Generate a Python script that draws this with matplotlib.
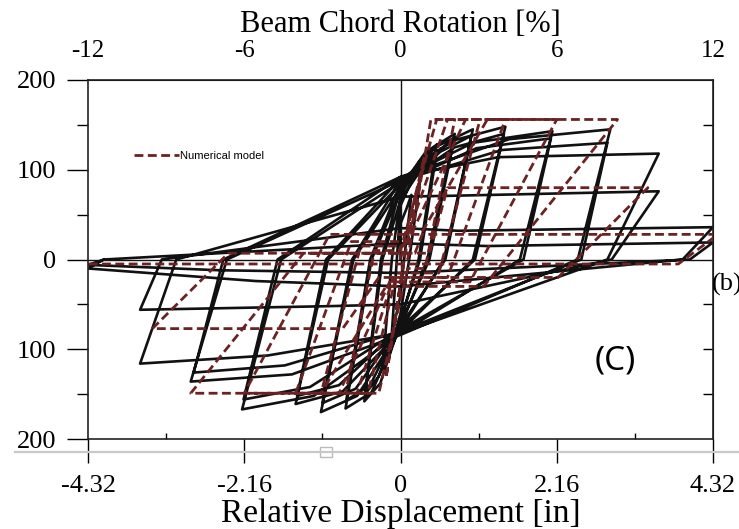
import numpy as np
import matplotlib.pyplot as plt
from matplotlib.lines import Line2D
from matplotlib.patches import Rectangle

# ---- experimental cycles (black) : displacement [in], force ----
exp_pos_pinch_y = [40, 60, 70, 66, 80, 76, 85, 80, 88, 84, 90, 86, 92, 88, 92, 70, 35, 18]
exp_pos_knee_x = [0.08, 0.15, 0.25, 0.28, 0.35, 0.38, 0.50, 0.55, 0.70, 0.75, 1.00, 1.05,
                  1.50, 1.40, 1.35, 0.70, 0.80, 1.20]
exp_pos_knee_y = [56, 87, 108, 100, 120, 114, 126, 120, 132, 125, 130, 124, 134, 122, 114, 71, 32, 15]
exp_pos_peak_x = [0.15, 0.30, 0.50, 0.50, 0.75, 0.74, 1.00, 0.98, 1.45, 1.43, 2.10, 2.08,
                  2.90, 2.86, 3.57, 3.57, 4.32, 4.32]
exp_pos_peak_y = [72, 104, 128, 120, 140, 133, 145, 138, 148, 140, 143, 135, 145, 130, 118, 76, 36, 19]
exp_pos_zero_x = [0.05, 0.12, 0.25, 0.27, 0.37, 0.40, 0.60, 0.62, 1.00, 1.03, 1.65, 1.70,
                  2.45, 2.50, 2.86, 2.92, 3.90, 4.00]
exp_neg_pinch_y = [-40, -60, -70, -66, -75, -72, -78, -74, -80, -76, -82, -78, -84, -80, -82, -50, -30, -15]
exp_neg_knee_x = [-0.06, -0.14, -0.28, -0.30, -0.40, -0.42, -0.60, -0.62, -0.80, -0.85, -1.20, -1.25,
                  -1.50, -1.60, -1.84, -1.00, -2.00, -2.50]
exp_neg_knee_y = [-62, -102, -138, -130, -148, -140, -152, -144, -147, -140, -152, -142,
                  -128, -118, -107, -52, -24, -12]
exp_neg_peak_x = [-0.12, -0.25, -0.50, -0.49, -0.76, -0.75, -1.10, -1.08, -1.45, -1.43, -2.19, -2.17,
                  -2.90, -2.86, -3.60, -3.60, -4.32, -4.32]
exp_neg_peak_y = [-82, -122, -158, -150, -166, -157, -170, -160, -161, -152, -167, -156,
                  -136, -126, -116, -56, -10, -6]
exp_neg_zero_x = [-0.05, -0.12, -0.25, -0.27, -0.40, -0.42, -0.65, -0.67, -1.00, -1.03, -1.65, -1.70,
                  -2.40, -2.45, -3.10, -3.30, -4.10, -4.10]

# ---- numerical model cycles (dashed) ----
num_pos_pinch_y = [0, 0, 10, 15, 20, 28, 7, 7]
num_pos_pinch_end_x = [0.00, 0.10, 0.00, 0.05, 0.10, 0.28, 0.40, 0.20]
num_pos_knee_x = [0.33, 0.42, 0.50, 0.65, 0.90, 1.20, 0.65, 0.30]
num_pos_x = [0.33, 0.75, 1.10, 1.45, 2.16, 3.00, 3.42, 4.39]
num_pos_y = [115, 156, 156, 156, 156, 156, 80, 28]
num_pos_unload_x = [0.05, 0.34, 0.53, 0.65, 0.96, 1.15, 2.18, 3.84]
num_neg_pinch_y = [0, -10, -15, -20, -25, -30, -20, -5]
num_neg_pinch_end_x = [0.05, 0.10, -0.05, -0.10, -0.15, -0.20, -0.30, -4.32]
num_neg_knee_x = [-0.20, -0.30, -0.45, -0.60, -0.85, -1.10, -0.80, -4.32]
num_neg_x = [-0.20, -0.76, -1.10, -1.45, -2.16, -2.90, -3.43, -4.32]
num_neg_y = [-132, -149, -149, -149, -149, -149, -77, -8]
num_neg_unload_x = [0.05, -0.36, -0.55, -0.68, -0.98, -1.34, -2.38, -4.32]

x_ticks = [-4.32, -2.16, 0, 2.16, 4.32]
x_tick_labels = ['-4.32', '-2.16', '0', '2.16', '4.32']
rot_ticks = [-12, -6, 0, 6, 12]
y_ticks = [-200, -100, 0, 100, 200]
y_tick_labels = ['200', '100', '0', '100', '200']

BLACK = '#111111'
RED = '#6b2222'
SERIF = 'Liberation Serif'
DASH = (0, (3.2, 1.6))

# experimental path
ex, ey = [0.0], [0.0]
for i in range(len(exp_pos_peak_x)):
    ex += [0, exp_pos_knee_x[i], exp_pos_peak_x[i], exp_pos_zero_x[i],
           0, exp_neg_knee_x[i], exp_neg_peak_x[i], exp_neg_zero_x[i]]
    ey += [exp_pos_pinch_y[i], exp_pos_knee_y[i], exp_pos_peak_y[i], 0,
           exp_neg_pinch_y[i], exp_neg_knee_y[i], exp_neg_peak_y[i], 0]

# numerical path
nx, ny = [0.0], [0.0]
for i in range(len(num_pos_x)):
    start_x = 0.0 if i == 0 else num_neg_unload_x[i - 1]
    nx += [start_x, num_pos_pinch_end_x[i], num_pos_knee_x[i], num_pos_x[i],
           num_pos_unload_x[i], num_neg_pinch_end_x[i], num_neg_knee_x[i], num_neg_x[i]]
    ny += [num_pos_pinch_y[i], num_pos_pinch_y[i], num_pos_y[i], num_pos_y[i],
           num_neg_pinch_y[i], num_neg_pinch_y[i], num_neg_y[i], num_neg_y[i]]

fig = plt.figure(figsize=(7.39, 5.29), dpi=100)
ax = fig.add_axes([0.1191, 0.1701, 0.8457, 0.6787])

ax.axhline(0, color=BLACK, lw=1.0, zorder=1)
ax.axvline(0, color=BLACK, lw=1.0, zorder=1)
ax.plot(ex, ey, color=BLACK, lw=1.9, zorder=2)
ax.plot(nx, ny, color=RED, lw=2.0, linestyle=DASH, zorder=3)

ax.set_xlim(-4.32, 4.32)
ax.set_ylim(-200, 200)
for s in ax.spines.values():
    s.set_linewidth(1.2)
    s.set_color('#222222')

# left axis
ax.set_yticks(y_ticks, labels=y_tick_labels)
ax.set_yticks([-150, -50, 50, 150], minor=True)
ax.tick_params(axis='y', which='major', direction='out', length=15, width=1.0, pad=8,
               labelsize=19)
ax.tick_params(axis='y', which='minor', direction='out', length=8, width=1.0)
for t in ax.get_yticklabels():
    t.set_fontfamily(SERIF)

# right axis inward ticks
rax = ax.secondary_yaxis('right')
rax.set_yticks([-150, -100, -50, 50, 100, 150])
rax.tick_params(direction='in', length=7, width=1.0, labelright=False)

# bottom axis
ax.set_xticks(x_ticks, labels=x_tick_labels)
ax.set_xticks([-3.24, -1.08, 1.08, 3.24], minor=True)
ax.tick_params(axis='x', which='major', direction='out', length=17, width=1.0, pad=9,
               labelsize=19)
ax.tick_params(axis='x', which='minor', direction='in', length=4, width=1.0)
for t in ax.get_xticklabels():
    t.set_fontfamily(SERIF)
ax.set_xlabel('Relative Displacement [in]', fontsize=24, family=SERIF, labelpad=1)

# top axis: rotation
tax = ax.secondary_xaxis('top', functions=(lambda d: d / 4.32 * 12, lambda r: r * 4.32 / 12))
tax.set_xticks(rot_ticks, labels=[str(v) for v in rot_ticks])
tax.tick_params(length=0, pad=13, labelsize=18)
for t in tax.get_xticklabels():
    t.set_fontfamily(SERIF)
tax.set_xlabel('Beam Chord Rotation [%]', fontsize=22, family=SERIF, labelpad=6)

# legend
ax.legend(handles=[Line2D([], [], color=RED, lw=2.0, linestyle=DASH)],
          labels=['Numerical model'], loc='upper left', bbox_to_anchor=(0.058, 0.83),
          frameon=False, handlelength=4.0, handletextpad=0.1,
          prop={'family': 'Liberation Sans', 'size': 8})

# panel marks
fig.text(0.963, 0.463, '(b)', fontsize=19, family=SERIF, ha='left', va='center')
fig.text(0.832, 0.318, '(C)', fontsize=24, family='Noto Sans', ha='center', va='center')

# scan separator
fig.add_artist(Line2D([0.02, 1.0], [0.146, 0.146], transform=fig.transFigure,
                      color='#c8c8c8', lw=1.6))
fig.add_artist(Rectangle((0.433, 0.137), 0.016, 0.018, transform=fig.transFigure,
                         facecolor='white', edgecolor='#bbbbbb', lw=1.0))

fig.savefig('out.png', dpi=100)
